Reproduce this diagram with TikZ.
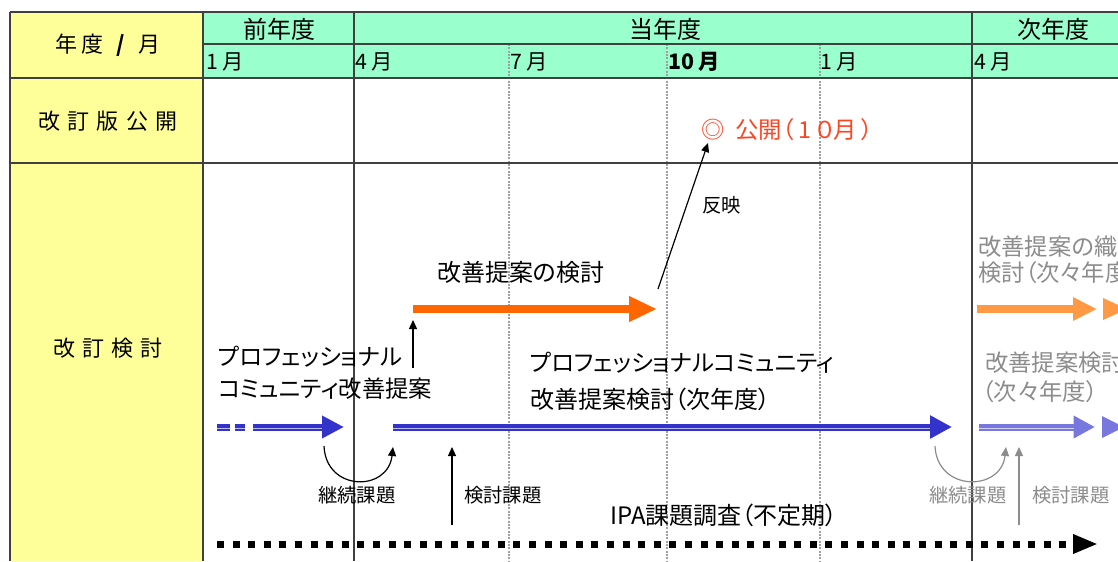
\documentclass[tikz,border=0pt]{standalone}
\usepackage{fontspec}
\setmainfont{Noto Sans CJK JP}[RawFeature=+palt]
\usetikzlibrary{arrows.meta}
\definecolor{hdrgreen}{HTML}{99FFCC}
\definecolor{lblyellow}{HTML}{FFFF99}
\definecolor{gridc}{HTML}{404040}
\definecolor{dotc}{HTML}{A0A0A0}
\definecolor{orangebar}{HTML}{FF6600}
\definecolor{orangelt}{HTML}{FF9944}
\definecolor{bluebar}{HTML}{3333CC}
\definecolor{bluelt}{HTML}{7777DD}
\definecolor{pubred}{HTML}{FF4422}
\definecolor{grayt}{HTML}{8C8C8C}
\tikzset{
  gridline/.style={gridc, line width=1.1pt},
  dotline/.style={dotc, line width=0.8pt, dash pattern=on 1.5pt off 1pt},
  hdrtext/.style={inner sep=0pt, font=\fontsize{18pt}{21pt}\selectfont},
  monthtext/.style={inner sep=0pt, anchor=west, font=\fontsize{16pt}{19pt}\selectfont},
  rowtext/.style={inner sep=0pt, font=\fontsize{16.5pt}{19pt}\selectfont\addfontfeatures{LetterSpace=33}},
  maintext/.style={inner sep=0pt, anchor=west, font=\fontsize{17.5pt}{20pt}\selectfont},
  widetext/.style={inner sep=0pt, anchor=west, font=\fontsize{18pt}{20pt}\selectfont},
  smalltext/.style={inner sep=0pt, anchor=west, font=\fontsize{14.5pt}{17pt}\selectfont},
  thinarrow/.style={line width=0.9pt, -{Triangle[length=6.75pt,width=6pt]}},
}
\begin{document}
\begin{tikzpicture}[x=0.75pt,y=-0.75pt]
\useasboundingbox (0,0) rectangle (1118,561);
\clip (0,0) rectangle (1118,561);
% fills
\fill[white] (0,0) rectangle (1118,561);
\fill[lblyellow] (10,12) rectangle (203,561);
\fill[hdrgreen] (203,12) rectangle (1118,78);
% dotted month lines
\foreach \xx in {509,667,820} \draw[dotline] (\xx,44) -- (\xx,561);
% grid
\draw[gridline] (10,12) -- (1118,12);
\draw[gridline] (203,44) -- (1118,44);
\draw[gridc, line width=1.8pt] (10,78) -- (1118,78);
\draw[gridline] (10,163) -- (1118,163);
\draw[gridline] (10,12) -- (10,561);
\draw[gridline] (203,12) -- (203,561);
\draw[gridline] (354,12) -- (354,561);
\draw[gridline] (972,12) -- (972,561);
% header texts
\node[hdrtext] (pz) at (279,29) {前年度};
\node[hdrtext] (tz) at (665,29) {当年度};
\node[hdrtext] (nz) at (1053,29) {次年度};
\node[monthtext] (m1) at (206,62) {1\kern3.5pt 月};
\node[monthtext] (m4) at (355,62) {4\kern3pt 月};
\node[monthtext] (m7) at (510,62) {7\kern3pt 月};
\node[monthtext, font=\fontsize{16pt}{19pt}\selectfont\bfseries] (m10) at (668,62) {10\kern3.5pt 月};
\node[monthtext] (m1b) at (820,62) {1\kern3.5pt 月};
\node[monthtext] (m4b) at (974,62) {4\kern3pt 月};
\node[rowtext, font=\fontsize{16.5pt}{19pt}\selectfont\addfontfeatures{LetterSpace=18}] (yl) at (108,45) {年度 \textbf{/} 月};
\node[rowtext] (rv) at (108,121) {改訂版公開};
\node[rowtext] (rk) at (108,348) {改訂検討};
% publication
\node[maintext, text=pubred] (pub) at (701,130) {◎\hspace{8pt}公開（\kern4pt 1\kern3pt ０月\kern3pt）};
\node[smalltext] (hanei) at (702,205) {反映};
\coordinate (hA) at (658,289);
\coordinate (hB) at (708,143);
\draw[thinarrow] (hA) -- (hB);
% orange arrow
\node[widetext] (kz) at (437,272) {改善提案の検討};
\coordinate (oA) at (413,309);
\coordinate (oB) at (657,309);
\draw[orangebar, line width=6pt, -{Triangle[length=21pt,width=18pt]}] (oA) -- (oB);
\coordinate (upA) at (413,368);
\coordinate (upB) at (413,320);
\draw[thinarrow] (upA) -- (upB);
% next-next year orange
\node[maintext, text=grayt] (nn1) at (978,247) {改善提案の織込};
\node[maintext, text=grayt] (nn2) at (978,273) {検討（次々年度）};
\coordinate (loA) at (977,309);
\coordinate (loB) at (1097,309);
\draw[orangelt, line width=5.5pt, -{Triangle[length=18pt,width=16.5pt]}] (loA) -- (loB);
\fill[orangelt] (1103,298) -- (1127,309) -- (1103,320) -- cycle;
% professional community
\node[maintext] (pc1) at (218,357) {プロフェッショナル};
\node[maintext] (pc2) at (218,389) {コミュニティ改善提案};
\node[maintext] (pc3) at (530,363) {プロフェッショナルコミュニティ};
\node[widetext] (pc4) at (530,399) {改善提案検討（次年度）};
\node[maintext, text=grayt] (pc5) at (985,363) {改善提案検討};
\node[maintext, text=grayt] (pc6) at (982,392) {（次々年度）};
% blue dashed arrow
\coordinate (bd1) at (217,427);
\coordinate (bd2) at (230,427);
\coordinate (bd3) at (235,427);
\coordinate (bd4) at (245,427);
\coordinate (bA) at (253,427);
\coordinate (bB) at (344,427);
\draw[bluebar, line width=5.25pt] (bd1) -- (bd2) (bd3) -- (bd4);
\draw[bluebar, line width=5.25pt, -{Triangle[length=16.5pt,width=16pt]}] (bA) -- (bB);
\draw[bluebar!35!white, line width=0.7pt] (217,428.3) -- (230,428.3) (235,428.3) -- (245,428.3) (253,428.3) -- (322,428.3);
% blue long arrow
\coordinate (blA) at (393,427);
\coordinate (blB) at (952,427);
\draw[bluebar, line width=5.25pt, -{Triangle[length=16.5pt,width=16.5pt]}] (blA) -- (blB);
\draw[bluebar!35!white, line width=0.7pt] (393,428.3) -- (930,428.3);
% light blue arrow
\coordinate (lbA) at (979,427);
\coordinate (lbB) at (1095,427);
\draw[bluelt, line width=5.25pt, -{Triangle[length=16pt,width=16pt]}] (lbA) -- (lbB);
\draw[bluelt!35!white, line width=0.7pt] (979,428.3) -- (1074,428.3);
\fill[bluelt] (1102,416) -- (1124,427) -- (1102,438) -- cycle;
% continuation arrows
\coordinate (cA) at (324,446);
\coordinate (cB) at (393,447);
\draw[thinarrow] (cA) .. controls (326,492) and (388,492) .. (cB);
\node[smalltext] (kk1) at (318,495) {継続課題};
\coordinate (kA) at (452,525);
\coordinate (kB) at (452,447);
\draw[thinarrow] (kA) -- (kB);
\node[smalltext] (kt1) at (464,495) {検討課題};
\coordinate (gA) at (935,446);
\coordinate (gB) at (1006,447);
\draw[thinarrow, grayt] (gA) .. controls (937,492) and (1001,492) .. (gB);
\node[smalltext, text=grayt] (kk2) at (929,495) {継続課題};
\coordinate (gkA) at (1019,525);
\coordinate (gkB) at (1019,447);
\draw[thinarrow, grayt] (gkA) -- (gkB);
\node[smalltext, text=grayt] (kt2) at (1032,495) {検討課題};
% IPA
\node[widetext] (ipa) at (610,515) {IPA課題調査（不定期）};
\coordinate (dA) at (217,544);
\coordinate (dB) at (1098,544);
\draw[line width=5.25pt, dash pattern=on 5.25pt off 6.45pt, -{Triangle[length=18.75pt,width=13.5pt]}] (dA) -- (dB);
\end{tikzpicture}
\end{document}
